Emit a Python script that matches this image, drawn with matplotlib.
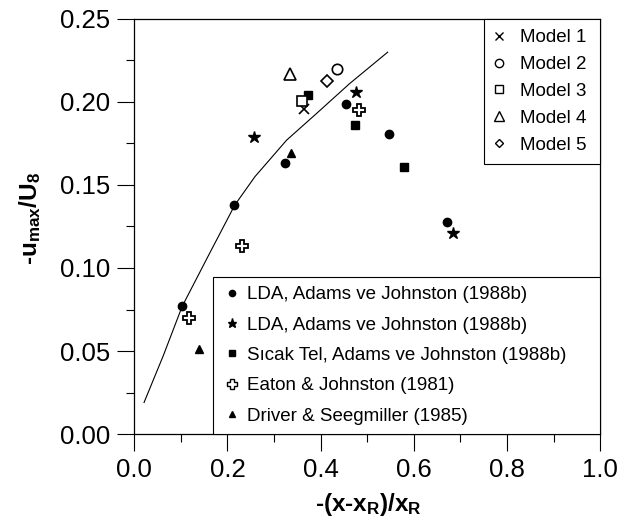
import matplotlib
matplotlib.use("Agg")
import matplotlib.pyplot as plt
from matplotlib.lines import Line2D
from matplotlib.ticker import MultipleLocator

plt.rcParams['font.family'] = ['Liberation Sans', 'DejaVu Sans']
plt.rcParams['mathtext.fontset'] = 'custom'
plt.rcParams['mathtext.rm'] = 'Liberation Sans:bold'
plt.rcParams['mathtext.it'] = 'Liberation Sans:bold'
plt.rcParams['mathtext.bf'] = 'Liberation Sans:bold'

# experiments
lda1_x = [0.103, 0.215, 0.324, 0.454, 0.546, 0.671]
lda1_y = [0.077, 0.138, 0.163, 0.199, 0.181, 0.128]
lda2_x = [0.257, 0.477, 0.684]
lda2_y = [0.179, 0.206, 0.121]
hw_x = [0.374, 0.473, 0.579]
hw_y = [0.204, 0.186, 0.161]
eaton_x = [0.117, 0.232, 0.482]
eaton_y = [0.070, 0.113, 0.195]
driver_x = [0.139, 0.337]
driver_y = [0.051, 0.1695]

# models
m1 = (0.364, 0.196)
m2 = (0.435, 0.220)
m3 = (0.361, 0.2006)
m4 = (0.334, 0.217)
m5 = (0.4135, 0.2127)

# fitted curve
curve_x = [0.021, 0.062, 0.103, 0.162, 0.216, 0.259, 0.327, 0.391, 0.462, 0.544]
curve_y = [0.019, 0.047, 0.077, 0.109, 0.138, 0.155, 0.177, 0.193, 0.211, 0.230]

exp_labels = ['LDA, Adams ve Johnston (1988b)', 'LDA, Adams ve Johnston (1988b)',
              'Sıcak Tel, Adams ve Johnston (1988b)', 'Eaton & Johnston (1981)',
              'Driver & Seegmiller (1985)']
model_labels = ['Model 1', 'Model 2', 'Model 3', 'Model 4', 'Model 5']

fig = plt.figure(figsize=(6.26, 5.30), dpi=100)
ax = fig.add_axes([0.2145, 0.1811, 0.7441, 0.7831])

ax.plot(curve_x, curve_y, color='black', lw=0.8)

ax.plot(lda1_x, lda1_y, 'o', color='black', ms=6, ls='none')
ax.plot(lda2_x, lda2_y, '*', color='black', ms=9, ls='none')
ax.plot(hw_x, hw_y, 's', color='black', ms=6, ls='none')
ax.plot(eaton_x, eaton_y, 'P', mfc='white', mec='black', mew=1.3, ms=8.5, ls='none')
ax.plot(driver_x, driver_y, '^', color='black', ms=6, ls='none')

ax.plot(*m1, 'x', color='black', ms=7, mew=1.2, ls='none')
ax.plot(*m2, 'o', mfc='white', mec='black', mew=1.2, ms=7.5, ls='none')
ax.plot(*m3, 's', mfc='white', mec='black', mew=1.2, ms=7, ls='none')
ax.plot(*m4, '^', mfc='white', mec='black', mew=1.2, ms=8, ls='none')
ax.plot(*m5, 'D', mfc='white', mec='black', mew=1.2, ms=6, ls='none')

ax.set_xlim(0, 1.0)
ax.set_ylim(0, 0.25)
ax.xaxis.set_major_locator(MultipleLocator(0.2))
ax.xaxis.set_minor_locator(MultipleLocator(0.1))
ax.yaxis.set_major_locator(MultipleLocator(0.05))
ax.yaxis.set_minor_locator(MultipleLocator(0.025))
ax.xaxis.set_major_formatter(plt.FormatStrFormatter('%.1f'))
ax.yaxis.set_major_formatter(plt.FormatStrFormatter('%.2f'))
ax.tick_params(which='major', direction='out', length=12.5, width=0.8, labelsize=18.5, pad=5)
ax.tick_params(which='minor', direction='out', length=6, width=0.8)
ax.tick_params(top=False, right=False)
for s in ax.spines.values():
    s.set_linewidth(0.9)

ax.set_xlabel('-(x-x$_R$)/x$_R$', fontsize=17.5, fontweight='bold')
ax.xaxis.set_label_coords(0.502, -0.137)
ax.set_ylabel('-u$_{max}$/U$_8$', fontsize=17.5, fontweight='bold')
ax.yaxis.set_label_coords(-0.196, 0.52)

h1 = [Line2D([], [], ls='none', marker='x', color='black', ms=5.5, mew=1.0),
      Line2D([], [], ls='none', marker='o', mfc='white', mec='black', ms=6, mew=1.0),
      Line2D([], [], ls='none', marker='s', mfc='white', mec='black', ms=6, mew=1.0),
      Line2D([], [], ls='none', marker='^', mfc='white', mec='black', ms=6.5, mew=1.0),
      Line2D([], [], ls='none', marker='D', mfc='white', mec='black', ms=4.5, mew=1.0)]
leg1 = ax.legend(h1, model_labels,
                 loc='upper right', bbox_to_anchor=(0.751, 0.6, 0.249, 0.4), mode='expand',
                 fontsize=13.5, frameon=True, fancybox=False, edgecolor='black', framealpha=1,
                 borderaxespad=0, handlelength=0.5, handletextpad=0.9, labelspacing=0.52,
                 borderpad=0.54)
leg1.get_frame().set_linewidth(0.8)
ax.add_artist(leg1)

h2 = [Line2D([], [], ls='none', marker='o', color='black', ms=4.5),
      Line2D([], [], ls='none', marker='*', color='black', ms=6.5),
      Line2D([], [], ls='none', marker='s', color='black', ms=4.5),
      Line2D([], [], ls='none', marker='P', mfc='white', mec='black', ms=6.5, mew=1.0),
      Line2D([], [], ls='none', marker='^', color='black', ms=5)]
leg2 = ax.legend(h2, exp_labels,
                 loc='lower left', bbox_to_anchor=(0.169, 0.0, 0.831, 0.4), mode='expand',
                 fontsize=13.5, frameon=True, fancybox=False, edgecolor='black', framealpha=1,
                 borderaxespad=0, handlelength=1.0, handletextpad=0.3, labelspacing=0.71,
                 borderpad=0.49)
leg2.get_frame().set_linewidth(0.8)

fig.savefig('out.png', dpi=100)
